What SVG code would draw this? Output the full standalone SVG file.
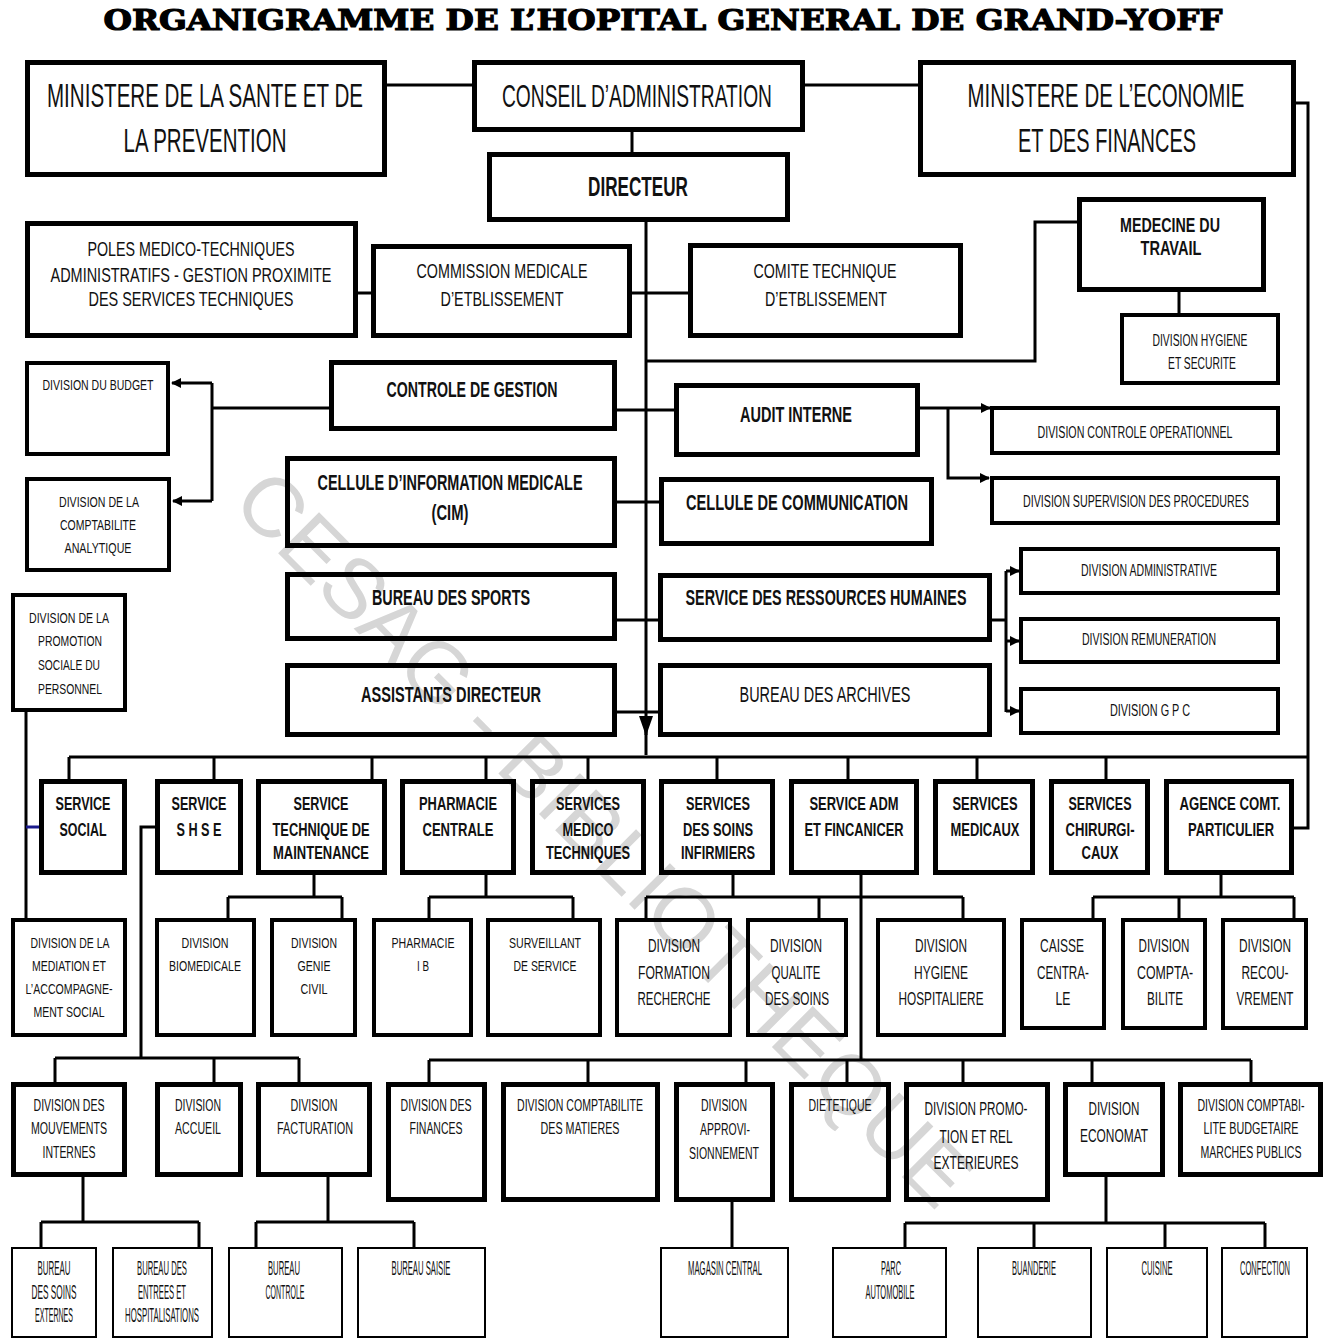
<svg xmlns="http://www.w3.org/2000/svg" width="1333" height="1340" viewBox="0 0 1333 1340">
<defs>
<style>
.box{fill:none;stroke:#000;stroke-width:5}
.b4{fill:none;stroke:#000;stroke-width:4}
.b2{fill:none;stroke:#000;stroke-width:2}
.c{fill:none;stroke:#000;stroke-width:3}
text{font-family:"Liberation Sans",Arial,sans-serif;fill:#111;text-anchor:middle}
.bd{font-weight:bold}
.f33{font-size:33px}.f31{font-size:31px}.f27{font-size:27px}.f22{font-size:22px}.f21{font-size:21px}.f20{font-size:20px}.f19{font-size:19px}.f18{font-size:18px}.f16{font-size:16px}.f15{font-size:15px}.f14{font-size:14px}
.title{font-family:"DejaVu Serif","Liberation Serif",serif;font-weight:bold;font-size:28px;fill:#000;stroke:#000;stroke-width:1.2}
.wm{font-size:84px;fill:#d6d6d6}
</style>
<marker id="ah" markerWidth="10" markerHeight="10" refX="9" refY="5" orient="auto" markerUnits="userSpaceOnUse"><path d="M0,0 L10,5 L0,10 z" fill="#000"/></marker>
<marker id="ahb" markerWidth="20" markerHeight="14" refX="19" refY="7" orient="auto" markerUnits="userSpaceOnUse"><path d="M0,0 L20,7 L0,14 z" fill="#000"/></marker>
</defs>
<rect width="1333" height="1340" fill="#fff"/>
<text class="title" x="663" y="30" textLength="1119" lengthAdjust="spacingAndGlyphs">ORGANIGRAMME DE L’HOPITAL GENERAL DE GRAND-YOFF</text>
<text class="wm" x="230" y="505" transform="rotate(45 230 505)" textLength="1000" lengthAdjust="spacingAndGlyphs" style="text-anchor:start">CESAG - BIBLIOTHEQUE</text>

<g id="connectors">
<path class="c" d="M387,85 H472 M805,85 H918 M632,132 V152"/>
<path class="c" d="M1296,103 H1308 V828 H1294"/>
<path class="c" d="M646,222 V735" marker-end="url(#ahb)"/>
<path class="c" d="M646,730 V755"/>
<path class="c" d="M358,293 H371 M632,293 H688"/>
<path class="c" d="M646,361 H1035 V222 H1077"/>
<path class="c" d="M1179,292 V313"/>
<path class="c" d="M617,410 H674"/>
<path class="c" d="M329,408 H212 M212,383 V501"/>
<path class="c" d="M212,383 H172" marker-end="url(#ah)"/>
<path class="c" d="M212,501 H173" marker-end="url(#ah)"/>
<path class="c" d="M920,408 H990" marker-end="url(#ah)"/>
<path class="c" d="M948,408 V478 H989" marker-end="url(#ah)"/>
<path class="c" d="M617,502 H659 M617,620 H658 M617,712 H658"/>
<path class="c" d="M992,620 H1006 M1006,571 V712"/>
<path class="c" d="M1006,571 H1019" marker-end="url(#ah)"/>
<path class="c" d="M1006,641 H1019" marker-end="url(#ah)"/>
<path class="c" d="M1006,711 H1019" marker-end="url(#ah)"/>
<path class="c" d="M26,712 V918"/>
<path d="M26,827 H39" stroke="#1a1a8c" stroke-width="3"/>
<path class="c" d="M69,757 H1308 M69,757 V779 M214,757 V779 M372,757 V779 M486,757 V779 M588,757 V779 M717,757 V779 M848,757 V779 M977,757 V779 M1106,757 V779"/>
<path class="c" d="M155,827 H141 V1058 M55,1058 H299 M55,1058 V1082 M214,1058 V1082 M299,1058 V1082"/>
<path class="c" d="M314,875 V897 M228,897 H342 M228,897 V918 M342,897 V918"/>
<path class="c" d="M486,875 V897 M429,897 H573 M429,897 V918 M573,897 V918"/>
<path class="c" d="M733,875 V897 M646,897 H963 M646,897 V918 M819,897 V918 M963,897 V918"/>
<path class="c" d="M861,875 V1060 M429,1060 H1251 M429,1060 V1082 M588,1060 V1082 M746,1060 V1082 M847,1060 V1082 M963,1060 V1082 M1092,1060 V1082 M1251,1060 V1082"/>
<path class="c" d="M1221,875 V897 M1093,897 H1294 M1093,897 V918 M1179,897 V918 M1294,897 V918"/>
<path class="c" d="M83,1177 V1222 M41,1222 H199 M41,1222 V1247 M199,1222 V1247"/>
<path class="c" d="M328,1177 V1222 M256,1222 H414 M256,1222 V1247 M414,1222 V1247"/>
<path class="c" d="M732,1202 V1247"/>
<path class="c" d="M1106,1177 V1223 M905,1223 H1265 M905,1223 V1247 M1034,1223 V1247 M1165,1223 V1247 M1265,1223 V1247"/>
</g>

<g id="n-sante"><rect class="box" x="27.5" y="62.5" width="357" height="112"/>
<text class="f33" x="205" y="107" textLength="316" lengthAdjust="spacingAndGlyphs">MINISTERE DE LA SANTE ET DE</text>
<text class="f33" x="205" y="152" textLength="163" lengthAdjust="spacingAndGlyphs">LA PREVENTION</text></g>
<g id="n-conseil"><rect class="box" x="474.5" y="62.5" width="328" height="67"/>
<text class="f31" x="637" y="107" textLength="270" lengthAdjust="spacingAndGlyphs">CONSEIL D’ADMINISTRATION</text></g>
<g id="n-economie"><rect class="box" x="920.5" y="62.5" width="373" height="112"/>
<text class="f33" x="1106" y="107" textLength="277" lengthAdjust="spacingAndGlyphs">MINISTERE DE L’ECONOMIE</text>
<text class="f33" x="1107" y="152" textLength="178" lengthAdjust="spacingAndGlyphs">ET DES FINANCES</text></g>
<g id="n-directeur"><rect class="box" x="489.5" y="154.5" width="298" height="65"/>
<text class="f27 bd" x="638" y="196" textLength="100" lengthAdjust="spacingAndGlyphs">DIRECTEUR</text></g>

<g id="n-poles"><rect class="box" x="27.5" y="223.5" width="328" height="112"/>
<text class="f21" x="191" y="255.5" textLength="207" lengthAdjust="spacingAndGlyphs">POLES MEDICO-TECHNIQUES</text>
<text class="f21" x="191" y="281.5" textLength="281" lengthAdjust="spacingAndGlyphs">ADMINISTRATIFS - GESTION PROXIMITE</text>
<text class="f21" x="191" y="305.5" textLength="205" lengthAdjust="spacingAndGlyphs">DES SERVICES TECHNIQUES</text></g>
<g id="n-commission"><rect class="box" x="373.5" y="246.5" width="256" height="89"/>
<text class="f21" x="502" y="277.5" textLength="171" lengthAdjust="spacingAndGlyphs">COMMISSION MEDICALE</text>
<text class="f21" x="502" y="305.5" textLength="123" lengthAdjust="spacingAndGlyphs">D’ETBLISSEMENT</text></g>
<g id="n-comite"><rect class="box" x="690.5" y="245.5" width="270" height="90"/>
<text class="f21" x="825" y="277.5" textLength="143" lengthAdjust="spacingAndGlyphs">COMITE TECHNIQUE</text>
<text class="f21" x="826" y="305.5" textLength="122" lengthAdjust="spacingAndGlyphs">D’ETBLISSEMENT</text></g>
<g id="n-medecine"><rect class="box" x="1079.5" y="199.5" width="184" height="90"/>
<text class="f20 bd" x="1170" y="232" textLength="100" lengthAdjust="spacingAndGlyphs">MEDECINE DU</text>
<text class="f20 bd" x="1171" y="255" textLength="61" lengthAdjust="spacingAndGlyphs">TRAVAIL</text></g>
<g id="n-hyg-sec"><rect class="b4" x="1122" y="315" width="156" height="68"/>
<text class="f16" x="1200" y="346" textLength="95" lengthAdjust="spacingAndGlyphs">DIVISION HYGIENE</text>
<text class="f16" x="1202" y="369" textLength="68" lengthAdjust="spacingAndGlyphs">ET SECURITE</text></g>

<g id="n-budget"><rect class="b4" x="27" y="363" width="141" height="91"/>
<text class="f14" x="98" y="390" textLength="111" lengthAdjust="spacingAndGlyphs">DIVISION DU BUDGET</text></g>
<g id="n-compta-ana"><rect class="b4" x="27" y="479" width="142" height="91"/>
<text class="f15" x="99" y="506.5" textLength="80" lengthAdjust="spacingAndGlyphs">DIVISION DE LA</text>
<text class="f15" x="98" y="529.5" textLength="76" lengthAdjust="spacingAndGlyphs">COMPTABILITE</text>
<text class="f15" x="98" y="552.5" textLength="67" lengthAdjust="spacingAndGlyphs">ANALYTIQUE</text></g>
<g id="n-controle"><rect class="box" x="331.5" y="362.5" width="283" height="66"/>
<text class="f22 bd" x="472" y="397" textLength="171" lengthAdjust="spacingAndGlyphs">CONTROLE DE GESTION</text></g>
<g id="n-audit"><rect class="box" x="676.5" y="385.5" width="241" height="69"/>
<text class="f22 bd" x="796" y="422" textLength="112" lengthAdjust="spacingAndGlyphs">AUDIT INTERNE</text></g>
<g id="n-ctrl-op"><rect class="b4" x="992" y="408" width="286" height="45"/>
<text class="f16" x="1135" y="438" textLength="195" lengthAdjust="spacingAndGlyphs">DIVISION  CONTROLE OPERATIONNEL</text></g>
<g id="n-supervision"><rect class="b4" x="992" y="478" width="286" height="45"/>
<text class="f16" x="1136" y="507" textLength="226" lengthAdjust="spacingAndGlyphs">DIVISION  SUPERVISION DES PROCEDURES</text></g>
<g id="n-cim"><rect class="box" x="287.5" y="458.5" width="327" height="87"/>
<text class="f22 bd" x="450" y="490" textLength="265" lengthAdjust="spacingAndGlyphs">CELLULE D’INFORMATION MEDICALE</text>
<text class="f22 bd" x="450" y="520" textLength="37" lengthAdjust="spacingAndGlyphs">(CIM)</text></g>
<g id="n-communication"><rect class="box" x="661.5" y="479.5" width="270" height="64"/>
<text class="f22 bd" x="797" y="510" textLength="222" lengthAdjust="spacingAndGlyphs">CELLULE DE COMMUNICATION</text></g>
<g id="n-sports"><rect class="box" x="287.5" y="574.5" width="327" height="64"/>
<text class="f22 bd" x="451" y="605" textLength="158" lengthAdjust="spacingAndGlyphs">BUREAU DES SPORTS</text></g>
<g id="n-srh"><rect class="box" x="660.5" y="575.5" width="329" height="64"/>
<text class="f22 bd" x="826" y="605" textLength="281" lengthAdjust="spacingAndGlyphs">SERVICE DES RESSOURCES HUMAINES</text></g>
<g id="n-div-admin"><rect class="b4" x="1021" y="549" width="257" height="44"/>
<text class="f16" x="1149" y="576" textLength="136" lengthAdjust="spacingAndGlyphs">DIVISION ADMINISTRATIVE</text></g>
<g id="n-div-remu"><rect class="b4" x="1021" y="619" width="257" height="43"/>
<text class="f16" x="1149" y="645" textLength="134" lengthAdjust="spacingAndGlyphs">DIVISION REMUNERATION</text></g>
<g id="n-div-gpc"><rect class="b4" x="1021" y="689" width="257" height="44"/>
<text class="f16" x="1150" y="716" textLength="80" lengthAdjust="spacingAndGlyphs">DIVISION G P  C</text></g>
<g id="n-assistants"><rect class="box" x="287.5" y="665.5" width="327" height="69"/>
<text class="f22 bd" x="451" y="702" textLength="180" lengthAdjust="spacingAndGlyphs">ASSISTANTS DIRECTEUR</text></g>
<g id="n-archives"><rect class="box" x="660.5" y="665.5" width="329" height="69"/>
<text class="f22" x="825" y="702" textLength="171" lengthAdjust="spacingAndGlyphs">BUREAU DES ARCHIVES</text></g>
<g id="n-promo-soc"><rect class="b4" x="13" y="595" width="112" height="115"/>
<text class="f15" x="69" y="622.5" textLength="80" lengthAdjust="spacingAndGlyphs">DIVISION DE LA</text>
<text class="f15" x="70" y="645.5" textLength="64" lengthAdjust="spacingAndGlyphs">PROMOTION</text>
<text class="f15" x="69" y="669.5" textLength="62" lengthAdjust="spacingAndGlyphs">SOCIALE DU</text>
<text class="f15" x="70" y="693.5" textLength="64" lengthAdjust="spacingAndGlyphs">PERSONNEL</text></g>

<g id="n-social"><rect class="box" x="41.5" y="781.5" width="83" height="91"/>
<text class="f19 bd" x="83" y="810" textLength="55" lengthAdjust="spacingAndGlyphs">SERVICE</text>
<text class="f19 bd" x="83" y="836" textLength="47" lengthAdjust="spacingAndGlyphs">SOCIAL</text></g>
<g id="n-shse"><rect class="box" x="157.5" y="781.5" width="83" height="91"/>
<text class="f19 bd" x="199" y="810" textLength="55" lengthAdjust="spacingAndGlyphs">SERVICE</text>
<text class="f19 bd" x="199" y="836" textLength="45" lengthAdjust="spacingAndGlyphs">S H S E</text></g>
<g id="n-stm"><rect class="box" x="258.5" y="781.5" width="126" height="91"/>
<text class="f19 bd" x="321" y="810" textLength="55" lengthAdjust="spacingAndGlyphs">SERVICE</text>
<text class="f19 bd" x="321" y="836" textLength="97" lengthAdjust="spacingAndGlyphs">TECHNIQUE DE</text>
<text class="f19 bd" x="321" y="859" textLength="96" lengthAdjust="spacingAndGlyphs">MAINTENANCE</text></g>
<g id="n-pharmacie"><rect class="box" x="402.5" y="781.5" width="111" height="91"/>
<text class="f19 bd" x="458" y="810" textLength="78" lengthAdjust="spacingAndGlyphs">PHARMACIE</text>
<text class="f19 bd" x="458" y="836" textLength="71" lengthAdjust="spacingAndGlyphs">CENTRALE</text></g>
<g id="n-smt"><rect class="box" x="532.5" y="781.5" width="111" height="91"/>
<text class="f19 bd" x="588" y="810" textLength="64" lengthAdjust="spacingAndGlyphs">SERVICES</text>
<text class="f19 bd" x="588" y="836" textLength="51" lengthAdjust="spacingAndGlyphs">MEDICO</text>
<text class="f19 bd" x="588" y="859" textLength="84" lengthAdjust="spacingAndGlyphs">TECHNIQUES</text></g>
<g id="n-ssi"><rect class="box" x="661.5" y="781.5" width="111" height="91"/>
<text class="f19 bd" x="718" y="810" textLength="64" lengthAdjust="spacingAndGlyphs">SERVICES</text>
<text class="f19 bd" x="718" y="836" textLength="70" lengthAdjust="spacingAndGlyphs">DES SOINS</text>
<text class="f19 bd" x="718" y="859" textLength="74" lengthAdjust="spacingAndGlyphs">INFIRMIERS</text></g>
<g id="n-saf"><rect class="box" x="791.5" y="781.5" width="125" height="91"/>
<text class="f19 bd" x="854" y="810" textLength="89" lengthAdjust="spacingAndGlyphs">SERVICE ADM</text>
<text class="f19 bd" x="854" y="836" textLength="99" lengthAdjust="spacingAndGlyphs">ET FINCANICER</text></g>
<g id="n-smed"><rect class="box" x="935.5" y="781.5" width="97" height="91"/>
<text class="f19 bd" x="985" y="810" textLength="65" lengthAdjust="spacingAndGlyphs">SERVICES</text>
<text class="f19 bd" x="985" y="836" textLength="69" lengthAdjust="spacingAndGlyphs">MEDICAUX</text></g>
<g id="n-schir"><rect class="box" x="1051.5" y="781.5" width="96" height="91"/>
<text class="f19 bd" x="1100" y="810" textLength="63" lengthAdjust="spacingAndGlyphs">SERVICES</text>
<text class="f19 bd" x="1100" y="836" textLength="69" lengthAdjust="spacingAndGlyphs">CHIRURGI-</text>
<text class="f19 bd" x="1100" y="859" textLength="37" lengthAdjust="spacingAndGlyphs">CAUX</text></g>
<g id="n-agence"><rect class="box" x="1166.5" y="781.5" width="125" height="91"/>
<text class="f19 bd" x="1230" y="810" textLength="101" lengthAdjust="spacingAndGlyphs">AGENCE COMT.</text>
<text class="f19 bd" x="1231" y="836" textLength="86" lengthAdjust="spacingAndGlyphs">PARTICULIER</text></g>

<g id="n-mediation"><rect class="b4" x="13" y="920" width="112" height="115"/>
<text class="f15" x="70" y="947.5" textLength="79" lengthAdjust="spacingAndGlyphs">DIVISION DE LA</text>
<text class="f15" x="69" y="970.5" textLength="74" lengthAdjust="spacingAndGlyphs">MEDIATION ET</text>
<text class="f15" x="69" y="993.5" textLength="87" lengthAdjust="spacingAndGlyphs">L’ACCOMPAGNE-</text>
<text class="f15" x="69" y="1016.5" textLength="71" lengthAdjust="spacingAndGlyphs">MENT SOCIAL</text></g>
<g id="n-biomed"><rect class="b4" x="157" y="920" width="97" height="115"/>
<text class="f15" x="205" y="947.5" textLength="47" lengthAdjust="spacingAndGlyphs">DIVISION</text>
<text class="f15" x="205" y="970.5" textLength="72" lengthAdjust="spacingAndGlyphs">BIOMEDICALE</text></g>
<g id="n-genie"><rect class="b4" x="272" y="920" width="83" height="115"/>
<text class="f15" x="314" y="947.5" textLength="46" lengthAdjust="spacingAndGlyphs">DIVISION</text>
<text class="f15" x="314" y="970.5" textLength="33" lengthAdjust="spacingAndGlyphs">GENIE</text>
<text class="f15" x="314" y="993.5" textLength="27" lengthAdjust="spacingAndGlyphs">CIVIL</text></g>
<g id="n-pharm-ib"><rect class="b4" x="374" y="920" width="97" height="115"/>
<text class="f15" x="423" y="947.5" textLength="63" lengthAdjust="spacingAndGlyphs">PHARMACIE</text>
<text class="f15" x="423" y="970.5" textLength="12" lengthAdjust="spacingAndGlyphs">I B</text></g>
<g id="n-surveillant"><rect class="b4" x="488" y="920" width="112" height="115"/>
<text class="f15" x="545" y="947.5" textLength="72" lengthAdjust="spacingAndGlyphs">SURVEILLANT</text>
<text class="f15" x="545" y="970.5" textLength="63" lengthAdjust="spacingAndGlyphs">DE SERVICE</text></g>
<g id="n-formation"><rect class="b4" x="617" y="920" width="113" height="115"/>
<text class="f18" x="674" y="951.5" textLength="52" lengthAdjust="spacingAndGlyphs">DIVISION</text>
<text class="f18" x="674" y="978.5" textLength="72" lengthAdjust="spacingAndGlyphs">FORMATION</text>
<text class="f18" x="674" y="1004.5" textLength="73" lengthAdjust="spacingAndGlyphs">RECHERCHE</text></g>
<g id="n-qualite"><rect class="b4" x="748" y="920" width="98" height="115"/>
<text class="f18" x="796" y="951.5" textLength="52" lengthAdjust="spacingAndGlyphs">DIVISION</text>
<text class="f18" x="796" y="978.5" textLength="49" lengthAdjust="spacingAndGlyphs">QUALITE</text>
<text class="f18" x="797" y="1004.5" textLength="64" lengthAdjust="spacingAndGlyphs">DES SOINS</text></g>
<g id="n-hyg-hosp"><rect class="b4" x="878" y="920" width="126" height="115"/>
<text class="f18" x="941" y="951.5" textLength="52" lengthAdjust="spacingAndGlyphs">DIVISION</text>
<text class="f18" x="941" y="978.5" textLength="54" lengthAdjust="spacingAndGlyphs">HYGIENE</text>
<text class="f18" x="941" y="1004.5" textLength="85" lengthAdjust="spacingAndGlyphs">HOSPITALIERE</text></g>
<g id="n-caisse"><rect class="b4" x="1022" y="920" width="82" height="108"/>
<text class="f18" x="1062" y="951.5" textLength="44" lengthAdjust="spacingAndGlyphs">CAISSE</text>
<text class="f18" x="1063" y="978.5" textLength="52" lengthAdjust="spacingAndGlyphs">CENTRA-</text>
<text class="f18" x="1063" y="1004.5" textLength="15" lengthAdjust="spacingAndGlyphs">LE</text></g>
<g id="n-compta"><rect class="b4" x="1123" y="920" width="82" height="108"/>
<text class="f18" x="1164" y="951.5" textLength="51" lengthAdjust="spacingAndGlyphs">DIVISION</text>
<text class="f18" x="1165" y="978.5" textLength="56" lengthAdjust="spacingAndGlyphs">COMPTA-</text>
<text class="f18" x="1165" y="1004.5" textLength="36" lengthAdjust="spacingAndGlyphs">BILITE</text></g>
<g id="n-recouvrement"><rect class="b4" x="1223" y="920" width="83" height="108"/>
<text class="f18" x="1265" y="951.5" textLength="52" lengthAdjust="spacingAndGlyphs">DIVISION</text>
<text class="f18" x="1265" y="978.5" textLength="47" lengthAdjust="spacingAndGlyphs">RECOU-</text>
<text class="f18" x="1265" y="1004.5" textLength="57" lengthAdjust="spacingAndGlyphs">VREMENT</text></g>

<g id="n-mouvements"><rect class="box" x="13.5" y="1084.5" width="111" height="90"/>
<text class="f16" x="69" y="1111" textLength="71" lengthAdjust="spacingAndGlyphs">DIVISION DES</text>
<text class="f16" x="69" y="1134" textLength="76" lengthAdjust="spacingAndGlyphs">MOUVEMENTS</text>
<text class="f16" x="69" y="1158" textLength="53" lengthAdjust="spacingAndGlyphs">INTERNES</text></g>
<g id="n-accueil"><rect class="box" x="157.5" y="1084.5" width="83" height="90"/>
<text class="f16" x="198" y="1111" textLength="46" lengthAdjust="spacingAndGlyphs">DIVISION</text>
<text class="f16" x="198" y="1134" textLength="46" lengthAdjust="spacingAndGlyphs">ACCUEIL</text></g>
<g id="n-facturation"><rect class="box" x="258.5" y="1084.5" width="111" height="90"/>
<text class="f16" x="314" y="1111" textLength="47" lengthAdjust="spacingAndGlyphs">DIVISION</text>
<text class="f16" x="315" y="1134" textLength="76" lengthAdjust="spacingAndGlyphs">FACTURATION</text></g>
<g id="n-finances"><rect class="box" x="388.5" y="1084.5" width="96" height="115"/>
<text class="f16" x="436" y="1111" textLength="71" lengthAdjust="spacingAndGlyphs">DIVISION DES</text>
<text class="f16" x="436" y="1134" textLength="53" lengthAdjust="spacingAndGlyphs">FINANCES</text></g>
<g id="n-matieres"><rect class="box" x="503.5" y="1084.5" width="154" height="115"/>
<text class="f16" x="580" y="1111" textLength="126" lengthAdjust="spacingAndGlyphs">DIVISION COMPTABILITE</text>
<text class="f16" x="580" y="1134" textLength="79" lengthAdjust="spacingAndGlyphs">DES MATIERES</text></g>
<g id="n-approvi"><rect class="box" x="676.5" y="1084.5" width="96" height="115"/>
<text class="f16" x="724" y="1111" textLength="46" lengthAdjust="spacingAndGlyphs">DIVISION</text>
<text class="f16" x="725" y="1135" textLength="50" lengthAdjust="spacingAndGlyphs">APPROVI-</text>
<text class="f16" x="724" y="1159" textLength="70" lengthAdjust="spacingAndGlyphs">SIONNEMENT</text></g>
<g id="n-dietetique"><rect class="box" x="791.5" y="1084.5" width="97" height="115"/>
<text class="f16" x="840" y="1111" textLength="63" lengthAdjust="spacingAndGlyphs">DIETETIQUE</text></g>
<g id="n-promo-rel"><rect class="box" x="906.5" y="1084.5" width="141" height="115"/>
<text class="f18" x="976" y="1114.5" textLength="103" lengthAdjust="spacingAndGlyphs">DIVISION PROMO-</text>
<text class="f18" x="976" y="1142.5" textLength="73" lengthAdjust="spacingAndGlyphs">TION ET REL</text>
<text class="f18" x="976" y="1168.5" textLength="85" lengthAdjust="spacingAndGlyphs">EXTERIEURES</text></g>
<g id="n-economat"><rect class="box" x="1065.5" y="1084.5" width="97" height="90"/>
<text class="f18" x="1114" y="1114.5" textLength="51" lengthAdjust="spacingAndGlyphs">DIVISION</text>
<text class="f18" x="1114" y="1141.5" textLength="68" lengthAdjust="spacingAndGlyphs">ECONOMAT</text></g>
<g id="n-budgetaire"><rect class="box" x="1180.5" y="1084.5" width="140" height="90"/>
<text class="f16" x="1251" y="1111" textLength="107" lengthAdjust="spacingAndGlyphs">DIVISION COMPTABI-</text>
<text class="f16" x="1251" y="1134" textLength="95" lengthAdjust="spacingAndGlyphs">LITE BUDGETAIRE</text>
<text class="f16" x="1251" y="1158" textLength="101" lengthAdjust="spacingAndGlyphs">MARCHES PUBLICS</text></g>

<g id="n-soins-ext"><rect class="b2" x="12" y="1248" width="84" height="89"/>
<text class="f20" x="54" y="1275" textLength="33" lengthAdjust="spacingAndGlyphs">BUREAU</text>
<text class="f20" x="54" y="1299" textLength="45" lengthAdjust="spacingAndGlyphs">DES  SOINS</text>
<text class="f20" x="54" y="1322" textLength="38" lengthAdjust="spacingAndGlyphs">EXTERNES</text></g>
<g id="n-entrees"><rect class="b2" x="113" y="1248" width="99" height="89"/>
<text class="f20" x="162" y="1275" textLength="50" lengthAdjust="spacingAndGlyphs">BUREAU DES</text>
<text class="f20" x="162" y="1299" textLength="48" lengthAdjust="spacingAndGlyphs">ENTREES ET</text>
<text class="f20" x="162" y="1322" textLength="74" lengthAdjust="spacingAndGlyphs">HOSPITALISATIONS</text></g>
<g id="n-bur-controle"><rect class="b2" x="229" y="1248" width="113" height="89"/>
<text class="f20" x="284" y="1275" textLength="32" lengthAdjust="spacingAndGlyphs">BUREAU</text>
<text class="f20" x="285" y="1299" textLength="39" lengthAdjust="spacingAndGlyphs">CONTROLE</text></g>
<g id="n-saisie"><rect class="b2" x="358" y="1248" width="127" height="89"/>
<text class="f20" x="421" y="1275" textLength="59" lengthAdjust="spacingAndGlyphs">BUREAU SAISIE</text></g>
<g id="n-magasin"><rect class="b2" x="661" y="1248" width="127" height="89"/>
<text class="f20" x="725" y="1275" textLength="74" lengthAdjust="spacingAndGlyphs">MAGASIN CENTRAL</text></g>
<g id="n-parc"><rect class="b2" x="833" y="1248" width="113" height="89"/>
<text class="f20" x="891" y="1275" textLength="20" lengthAdjust="spacingAndGlyphs">PARC</text>
<text class="f20" x="890" y="1299" textLength="49" lengthAdjust="spacingAndGlyphs">AUTOMOBILE</text></g>
<g id="n-buanderie"><rect class="b2" x="978" y="1248" width="113" height="89"/>
<text class="f20" x="1034" y="1275" textLength="44" lengthAdjust="spacingAndGlyphs">BUANDERIE</text></g>
<g id="n-cuisine"><rect class="b2" x="1107" y="1248" width="100" height="89"/>
<text class="f20" x="1157" y="1275" textLength="31" lengthAdjust="spacingAndGlyphs">CUISINE</text></g>
<g id="n-confection"><rect class="b2" x="1222" y="1248" width="85" height="89"/>
<text class="f20" x="1265" y="1275" textLength="50" lengthAdjust="spacingAndGlyphs">CONFECTION</text></g>
</svg>
